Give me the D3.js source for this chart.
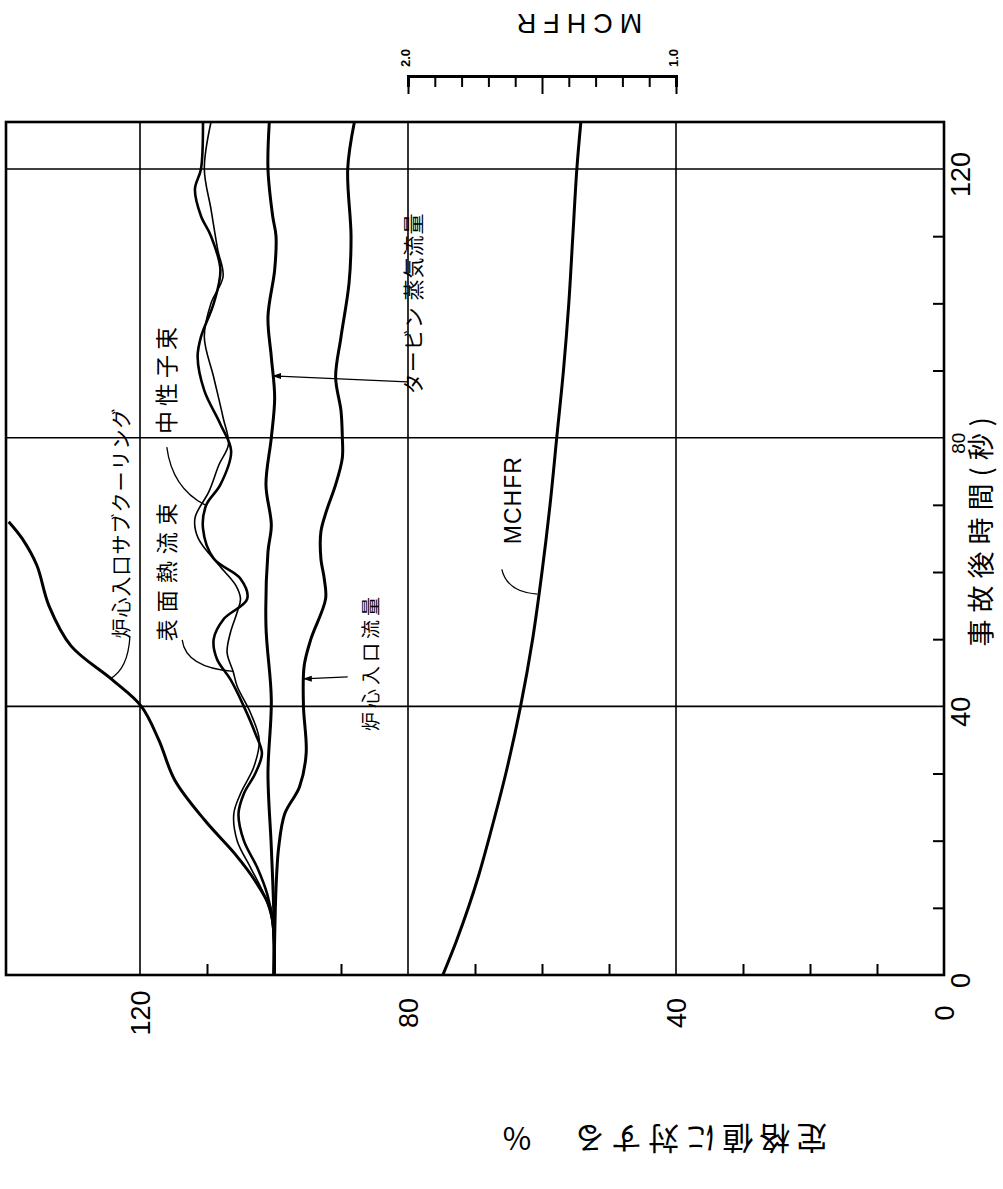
<!DOCTYPE html>
<html>
<head>
<meta charset="utf-8">
<script src="https://cdnjs.cloudflare.com/ajax/libs/d3/7.8.5/d3.min.js"></script>
<style>
  body { margin: 0; background: #fff; }
</style>
</head>
<body>
<div id="chart"></div>
<script>
// time after accident (s), percent of rated value
const timeGrid = [40, 80, 120];
const timeMinor = [10, 20, 30, 50, 60, 70, 90, 100, 110];
const timeLabels = [0, 40, 80, 120];
const pctGrid = [40, 80, 120];
const pctMinor = [10, 20, 30, 50, 60, 70, 90, 100, 110];
const pctLabels = [0, 40, 80, 120];
const mchfrMinor = [1.0, 1.1, 1.2, 1.3, 1.4, 1.5, 1.6, 1.7, 1.8, 1.9, 2.0];
const mchfrLabels = [1.0, 2.0];

// [time, percent]
const subcooling = [[0,100],[6,100],[10,100.6],[14,102.8],[18,105.8],[23,110.3],[29,114.8],[35,117.2],[40,119.8],[44,124.2],[49,130.3],[55,133.6],[61,135.4],[65,137.6],[67.5,139.6]];
const heatFlux = [[0,100],[8,100.3],[12,101.5],[16,103.5],[20,105.5],[24,106],[27,105],[31,103],[35,102.2],[39,103.5],[43,105.5],[45.2,106.1],[48,107],[51,106.5],[54,105.5],[56,105],[58,105.7],[61,108.2],[65,111.3],[68,111.8],[72,109.7],[76,108.2],[79,106.8],[83,107.6],[89,109],[95,110.4],[100,109.4],[104,107.6],[108,108.4],[114,109.4],[120,110.4],[127,109.4]];
const neutron = [[0,100],[8,100.2],[12,101],[16,102.5],[20,104.5],[24,105.3],[27,104.5],[30,102.8],[33,101.8],[36,102.8],[40,104.5],[44,106.5],[47,108.5],[50,109],[53,107.5],[56,104],[59,105],[62,109],[66.5,110.6],[70,110.1],[73,108],[78,106.4],[82,108],[87,110.4],[92,111.4],[95,110.9],[100,109],[105,108],[110,109.4],[113,110.9],[117,111.8],[120,110.9],[127,110.6]];
const turbine = [[0,100],[8,100],[19,100.4],[30,100.9],[41,100.4],[52,101.2],[63,100.9],[67,100.4],[73,101.2],[80,100.4],[86,99.9],[92,100.4],[98,100.9],[105,99.9],[110,99.7],[113,100.2],[120,100.9],[127,100.7]];
const inletFlow = [[0,100],[10,99.8],[15,99.6],[19,99.3],[24,98.4],[28,96.2],[33,95.2],[40,95.6],[46,95.5],[50,94.5],[56,92.3],[59,92.5],[62,93],[66,93],[69,92.2],[73,90.8],[77,89.8],[80,89.8],[84,90],[89,90.8],[95,90],[103,88.8],[110,88.5],[120,89],[127,88]];
// [time, MCHFR]
const mchfr = [[0,1.87],[5,1.82],[10,1.775],[15,1.735],[20,1.70],[30,1.635],[40,1.58],[50,1.535],[60,1.50],[70,1.47],[80,1.445],[90,1.42],[100,1.40],[110,1.385],[120,1.37],[127,1.355]];

const W = 1003, H = 1189;
const svg = d3.select("#chart").append("svg").attr("width", W).attr("height", H);

// the chart is drawn turned a quarter: time runs upward, percent runs leftward
const x = d3.scaleLinear().domain([0, 140]).range([944, 6]);
const y = d3.scaleLinear().domain([0, 127]).range([975, 122]);
const xm = d3.scaleLinear().domain([1, 2]).range([x(40), x(80)]);

const jp = "'Noto Sans CJK JP', sans-serif";
const num = "'Liberation Sans', Arial, sans-serif";

// grid
svg.selectAll(".vgrid").data(pctGrid).enter().append("line")
    .attr("x1", d => x(d)).attr("x2", d => x(d))
    .attr("y1", y(0)).attr("y2", y(127))
    .attr("stroke", "#000").attr("stroke-width", 1.6);
svg.selectAll(".hgrid").data(timeGrid).enter().append("line")
    .attr("x1", x(0)).attr("x2", x(140))
    .attr("y1", d => y(d)).attr("y2", d => y(d))
    .attr("stroke", "#000").attr("stroke-width", 1.6);

// frame
svg.append("rect")
    .attr("x", x(140)).attr("y", y(127))
    .attr("width", x(0) - x(140)).attr("height", y(0) - y(127))
    .attr("fill", "none").attr("stroke", "#000").attr("stroke-width", 2.6);

// minor ticks on bottom and right
const bottomAxis = svg.append("g").attr("transform", `translate(0,${y(0)})`)
    .call(d3.axisBottom(x).tickValues(pctMinor).tickSize(-11).tickFormat(""));
const rightAxis = svg.append("g").attr("transform", `translate(${x(0)},0)`)
    .call(d3.axisRight(y).tickValues(timeMinor).tickSize(-11).tickFormat(""));
[bottomAxis, rightAxis].forEach(g => {
  g.select(".domain").remove();
  g.selectAll("line").attr("stroke", "#000").attr("stroke-width", 2);
});

// tick labels, written sideways
const pctAxis = svg.append("g").attr("transform", `translate(0,${y(0)})`)
    .call(d3.axisBottom(x).tickValues(pctLabels).tickSize(0));
pctAxis.select(".domain").remove();
pctAxis.selectAll("text")
    .attr("transform", "rotate(-90)")
    .attr("x", -38).attr("y", 0).attr("dy", "0.35em")
    .attr("text-anchor", "middle")
    .attr("font-family", num).attr("font-size", 27).attr("fill", "#000");

const timeAxis = svg.append("g").attr("transform", `translate(${x(0)},0)`)
    .call(d3.axisRight(y).tickValues(timeLabels).tickSize(0));
timeAxis.select(".domain").remove();
timeAxis.selectAll("text")
    .attr("transform", "rotate(-90)")
    .attr("x", -5).attr("y", d => d === 80 ? 14 : 17).attr("dy", "0.35em")
    .attr("text-anchor", "middle")
    .attr("font-family", num).attr("font-size", d => d === 80 ? 19 : 27).attr("fill", "#000");

// axis titles
svg.append("text")
    .attr("transform", `translate(982,${y(66.5)}) rotate(-90)`)
    .attr("text-anchor", "middle").attr("dy", "0.35em")
    .attr("font-family", jp).attr("font-size", 27).attr("letter-spacing", 7)
    .text("事故後時間(秒)");
svg.append("text")
    .attr("transform", "translate(662,1138) rotate(180)")
    .attr("text-anchor", "middle").attr("dy", "0.35em")
    .attr("font-family", jp).attr("font-size", 31).attr("letter-spacing", 6)
    .text("定格値に対する　%");

// MCHFR scale above the frame
const mAxis = svg.append("g").attr("transform", "translate(0,76)")
    .call(d3.axisBottom(xm).tickValues(mchfrMinor).tickSize(11).tickFormat(""));
mAxis.select(".domain").attr("stroke-width", 3);
mAxis.selectAll(".tick line")
    .attr("y2", d => (d === 1 || d === 1.5 || d === 2) ? 18 : 11)
    .attr("stroke-width", 2);
svg.selectAll(".mlabel").data(mchfrLabels).enter().append("text")
    .attr("transform", d => `translate(${xm(d) - 3},58) rotate(-90)`)
    .attr("text-anchor", "middle").attr("dy", "0.35em")
    .attr("font-family", num).attr("font-size", 13).attr("font-weight", "bold")
    .text(d => d.toFixed(1));
svg.append("text")
    .attr("transform", "translate(576,23) rotate(180)")
    .attr("text-anchor", "middle").attr("dy", "0.35em")
    .attr("font-family", num).attr("font-size", 27).attr("letter-spacing", 7)
    .text("MCHFR");

// curves
const line = d3.line().x(d => x(d[1])).y(d => y(d[0])).curve(d3.curveCatmullRom);
const mline = d3.line().x(d => xm(d[1])).y(d => y(d[0])).curve(d3.curveCatmullRom);

svg.append("path").datum(subcooling).attr("d", line).attr("fill", "none").attr("stroke", "#000").attr("stroke-width", 3);
svg.append("path").datum(heatFlux).attr("d", line).attr("fill", "none").attr("stroke", "#000").attr("stroke-width", 1.6);
svg.append("path").datum(neutron).attr("d", line).attr("fill", "none").attr("stroke", "#000").attr("stroke-width", 2.6);
svg.append("path").datum(turbine).attr("d", line).attr("fill", "none").attr("stroke", "#000").attr("stroke-width", 3);
svg.append("path").datum(inletFlow).attr("d", line).attr("fill", "none").attr("stroke", "#000").attr("stroke-width", 3);
svg.append("path").datum(mchfr).attr("d", mline).attr("fill", "none").attr("stroke", "#000").attr("stroke-width", 3);

// curve labels (placed in data units: time, percent)
function label(t, v, txt, size, spacing, font) {
  svg.append("text")
      .attr("transform", `translate(${x(v)},${y(t)}) rotate(-90)`)
      .attr("text-anchor", "middle").attr("dy", "0.35em")
      .attr("font-family", font || jp).attr("font-size", size).attr("letter-spacing", spacing)
      .text(txt);
}
label(67.3, 122.7, "炉心入口サブクーリング", 20, 1);
label(60.5, 115.9, "表面熱流束", 22, 7);
label(88.9, 116, "中性子束", 23, 5);
label(100, 79.1, "タービン 蒸気流量", 21, 1);
label(46.6, 85.4, "炉心入口流量", 19, 4);
label(70.7, 64.3, "MCHFR", 23, 1, num);

// leader lines: from label to curve, with a bend point
function leader(a, b, c) {
  const p = d3.path();
  p.moveTo(x(a[1]), y(a[0]));
  p.quadraticCurveTo(x(c[1]), y(c[0]), x(b[1]), y(b[0]));
  svg.append("path").attr("d", p.toString()).attr("fill", "none").attr("stroke", "#000").attr("stroke-width", 1.3);
}
leader([50.4, 121.5], [44.1, 124.5], [45.5, 121.8]);
leader([49.9, 113.7], [45.2, 106.1], [45.8, 113.2]);
leader([78.6, 116], [70, 110.3], [72.5, 115.2]);
leader([44.4, 89], [44.1, 95.7], [44.25, 92.3]);
leader([88.3, 80.1], [89.2, 100.3], [88.75, 90.2]);
leader([60.4, 66.0], [56.7, 60.7], [57, 65.2]);
// small arrow heads on the straight leaders
[[44.1, 95.7], [89.2, 100.3]].forEach(d => {
  svg.append("path")
      .attr("d", `M${x(d[1])},${y(d[0])} l9,-3 l0,6 z`)
      .attr("fill", "#000");
});
</script>
</body>
</html>
